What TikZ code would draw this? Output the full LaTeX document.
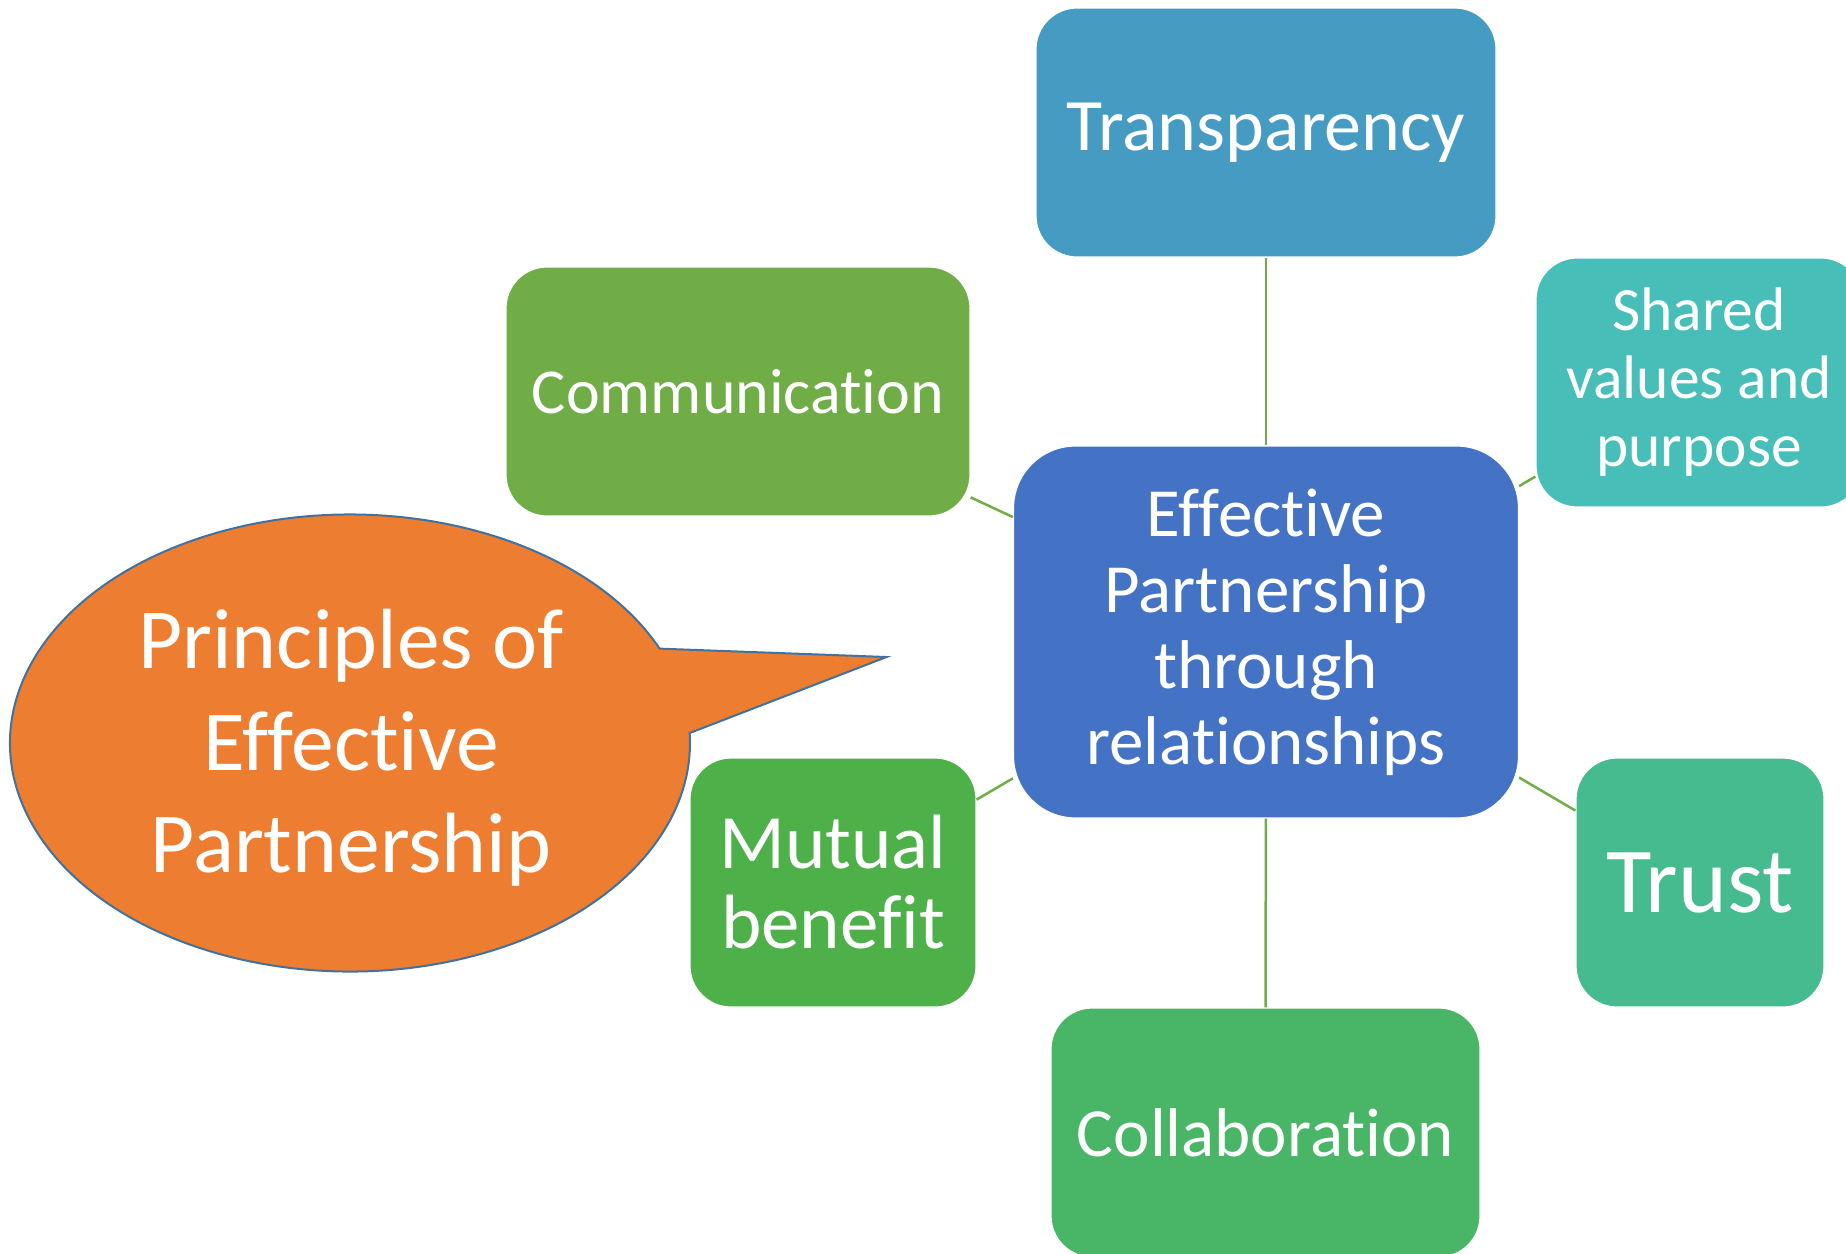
\documentclass[tikz,border=0pt]{standalone}
\usepackage{fontspec}
\setmainfont{Carlito}[Ligatures={NoCommon}]
\definecolor{transblue}{HTML}{459BC2}
\definecolor{sharedteal}{HTML}{47BFB8}
\definecolor{centerblue}{HTML}{4472C4}
\definecolor{commgreen}{HTML}{70AD47}
\definecolor{mutualgreen}{HTML}{4DB048}
\definecolor{trustgreen}{HTML}{45BB8F}
\definecolor{collabgreen}{HTML}{48B666}
\definecolor{linkgreen}{HTML}{70AD47}
\definecolor{calloutfill}{HTML}{ED7D31}
\definecolor{calloutedge}{HTML}{41719C}
\tikzset{
  box/.style={rectangle, rounded corners=41pt, draw=white, line width=1.2pt,
    text=white, align=center, inner sep=0pt, minimum height=249pt},
  link/.style={draw=linkgreen, line width=2.5pt},
  fs/.style 2 args={font=\fontsize{#1}{#2}\selectfont},
}
\begin{document}
\begin{tikzpicture}[x=1pt,y=1pt]
\useasboundingbox (0,0) rectangle (1846,-1253);
\clip (0,0) rectangle (1846,-1253);

% outer boxes around the central node
\node[box, fill=transblue, minimum width=460pt, fs={74}{80}] (trans) at (1266,-132.5) {Transparency};
\node[box, fill=commgreen, minimum width=464pt, fs={64}{70}] (comm) at (738,-391.5) {Communication};
\node[box, fill=sharedteal, minimum width=326pt, fs={61.5}{68}] (shared) at (1699,-382.5) {Shared\\values and\\purpose};
\node[box, fill=trustgreen, minimum width=248pt, fs={93}{100}] (trust) at (1700,-882.5) {Trust};
\node[box, fill=mutualgreen, minimum width=286pt, fs={77}{80}] (mutual) at (833,-882.5) {Mutual\\benefit};
\node[box, fill=collabgreen, minimum width=429pt, fs={69}{76}] (collab) at (1265.5,-1132.5) {Collaboration};

% central node
\node[box, fill=centerblue, rounded corners=62pt, minimum width=505pt, minimum height=372pt, fs={69}{76}] (center) at (1266,-632)
  {Effective\\Partnership\\through\\relationships};

% spokes
\draw[link] (center) -- (trans);
\draw[link] (center) -- (comm);
\draw[link] (center) -- (shared);
\draw[link] (center) -- (trust);
\draw[link] (center) -- (mutual);
\draw[link] (center) -- (collab);

% speech bubble
\coordinate (tip) at (886.5,-657);
\draw[fill=calloutfill, draw=calloutedge, line width=2pt, line join=miter]
  ({350+340*cos(24.4)},{-743+228.5*sin(24.4)})
  arc[start angle=24.4, end angle=362.5, x radius=340, y radius=228.5]
  -- (tip) -- cycle;
\node[text=white, align=center, fs={85.5}{102}] (bubble) at (351,-748) {Principles of\\Effective\\Partnership};
\end{tikzpicture}
\end{document}
